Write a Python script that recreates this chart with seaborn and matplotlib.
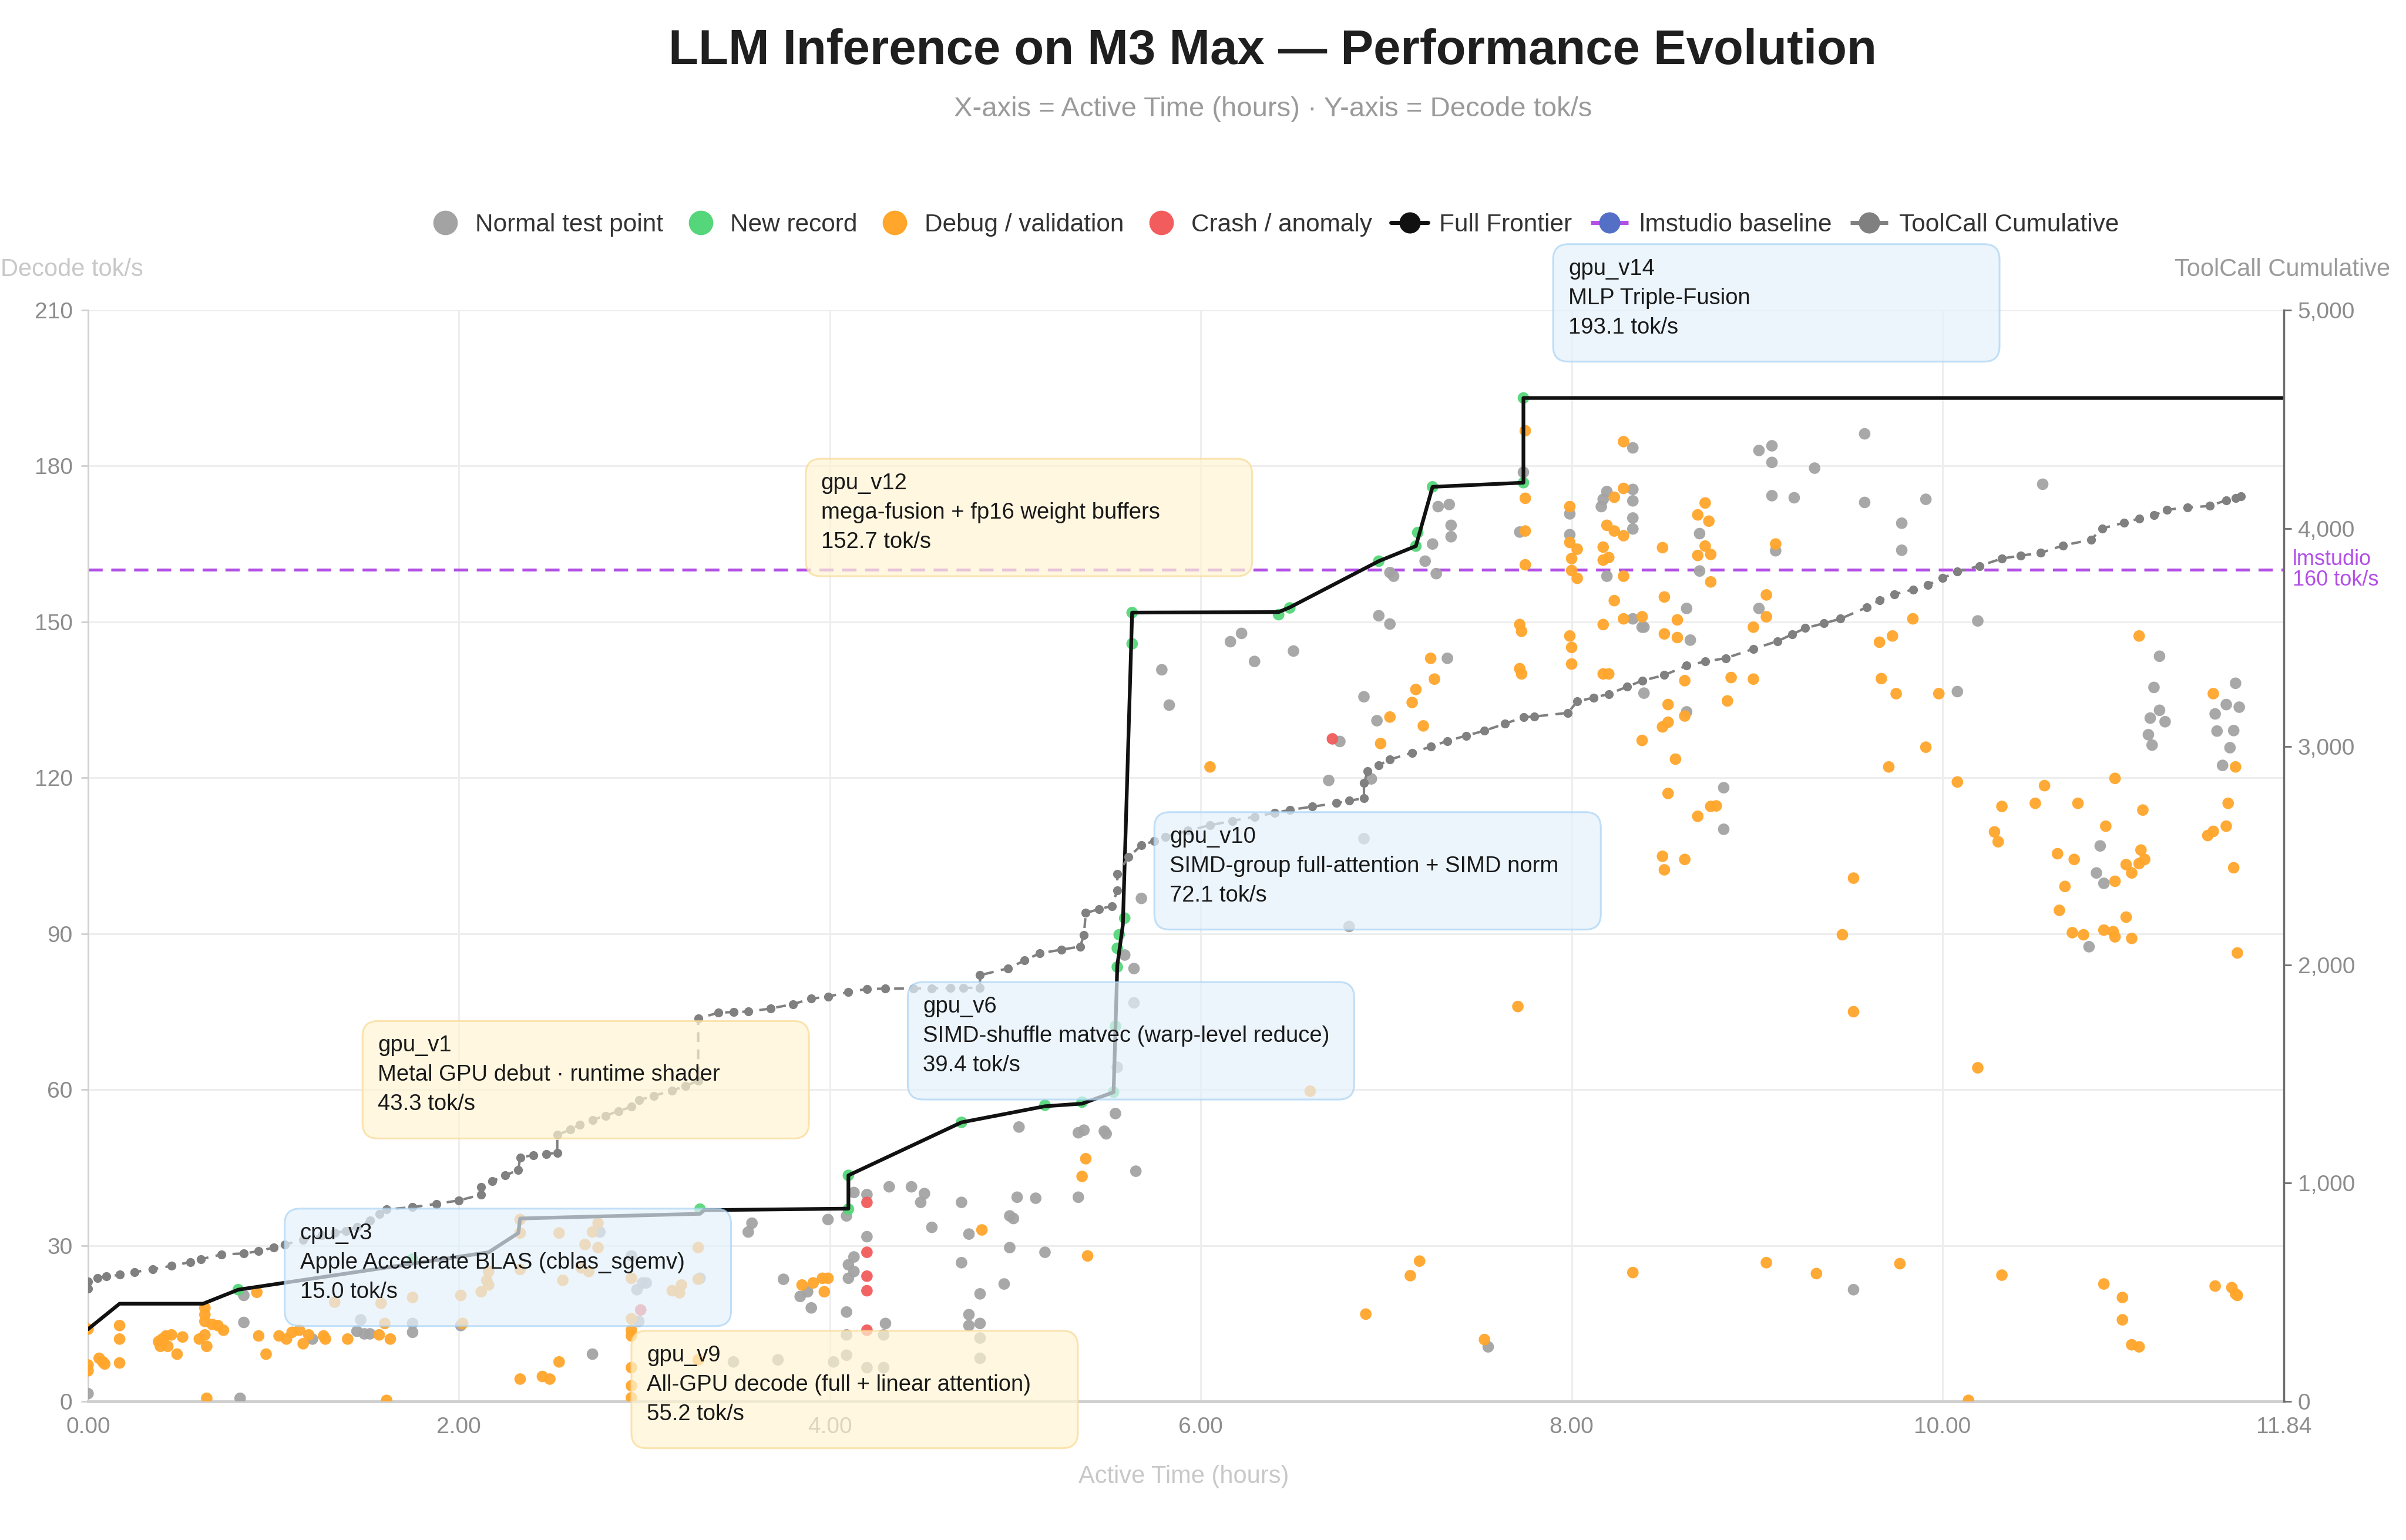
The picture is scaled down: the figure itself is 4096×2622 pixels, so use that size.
import numpy as np
import pandas as pd
import matplotlib
matplotlib.use("Agg")
import matplotlib.pyplot as plt
import matplotlib.transforms as mtransforms
from matplotlib.patches import FancyBboxPatch
from matplotlib.lines import Line2D
import seaborn as sns

# --- data (hours, decode tok/s) ---
normal_pts = [
    (0.00, 1.5), (0.82, 0.6), (0.84, 15.2), (0.84, 20.4), (1.21, 12.0), (1.47, 15.7), (1.45, 13.5),
    (1.49, 13.0), (1.52, 13.0), (1.75, 15.0), (1.75, 13.3), (2.01, 14.6), (2.72, 9.1), (2.76, 32.6),
    (2.93, 28.0), (2.96, 21.5), (2.99, 22.8), (2.97, 15.4), (3.01, 22.8), (3.30, 23.7), (3.48, 7.6),
    (3.72, 8.0), (3.56, 32.6), (3.58, 34.3), (3.75, 23.5), (3.84, 20.2), (3.88, 21.1), (3.90, 18.0),
    (3.99, 35.0), (4.09, 35.7), (4.13, 40.2), (4.20, 39.8), (4.20, 31.7), (4.13, 27.8), (4.10, 26.3),
    (4.13, 25.0), (4.10, 23.7), (4.09, 17.2), (4.09, 12.8), (4.09, 8.9), (4.02, 7.6), (4.20, 6.5),
    (4.29, 6.5), (4.29, 12.8), (4.30, 15.0), (4.32, 41.3), (4.44, 41.3), (4.51, 40.0), (4.49, 38.3),
    (4.55, 33.5), (4.71, 38.3), (4.75, 32.2), (4.71, 26.7), (4.81, 20.7), (4.75, 16.7), (4.75, 14.6),
    (4.81, 15.0), (4.81, 12.2), (4.81, 8.3), (4.94, 22.6), (4.97, 35.7), (4.99, 35.2), (4.97, 29.6),
    (5.01, 39.3), (5.11, 39.1), (5.16, 28.7), (5.02, 52.8), (5.34, 51.7), (5.37, 52.2), (5.34, 39.3),
    (5.48, 52.0), (5.49, 51.5), (5.54, 55.4), (5.65, 44.3), (5.55, 64.3), (5.64, 76.7), (5.59, 85.9),
    (5.64, 83.3), (5.68, 96.8), (5.79, 140.8), (5.83, 134.0), (6.16, 146.2), (6.22, 147.8), (6.29, 142.4),
    (6.50, 144.4), (6.80, 91.4), (6.88, 108.3), (6.69, 119.5), (6.92, 119.8), (6.75, 127.0), (6.95, 131.0),
    (6.88, 135.6), (6.96, 151.2), (7.02, 149.6), (7.33, 143.0), (7.28, 172.2), (7.34, 172.6), (7.35, 168.6),
    (7.35, 166.4), (7.25, 165.0), (7.21, 161.7), (7.04, 158.8), (7.02, 159.5), (7.27, 159.3), (7.74, 178.8),
    (7.72, 167.3), (7.99, 170.8), (7.99, 166.8), (8.16, 172.2), (8.19, 175.1), (8.17, 173.6), (8.33, 175.5),
    (8.33, 173.3), (8.33, 170.0), (8.33, 167.9), (8.33, 183.5), (8.19, 158.8), (8.38, 149.0), (9.01, 183.0),
    (9.08, 183.9), (9.08, 180.7), (9.31, 179.6), (9.58, 186.2), (10.54, 176.5), (9.08, 174.3), (9.20, 173.9),
    (9.58, 173.0), (9.91, 173.6), (9.78, 169.0), (9.78, 163.8), (9.10, 163.7), (8.69, 167.0), (8.69, 159.8),
    (8.62, 152.6), (9.01, 152.6), (8.33, 150.6), (8.39, 149.0), (8.64, 146.5), (10.19, 150.2), (8.39, 136.3),
    (8.62, 132.7), (10.08, 136.6), (11.17, 143.4), (11.14, 137.4), (11.17, 133.0), (11.20, 130.8),
    (11.12, 131.5), (11.11, 128.3), (11.13, 126.3), (11.58, 138.2), (11.53, 134.1), (11.47, 132.3),
    (11.57, 129.1), (11.48, 129.0), (11.60, 133.6), (11.55, 125.8), (11.51, 122.4), (8.82, 118.1),
    (8.82, 110.1), (10.85, 106.9), (10.83, 101.7), (10.87, 99.7), (10.79, 87.5), (9.52, 21.5), (7.55, 10.5),
]

debug_pts = [
    (0.00, 13.9), (0.17, 14.6), (0.17, 12.0), (0.17, 7.4), (0.00, 7.0), (0.00, 5.9), (0.06, 8.3), (0.08, 7.6),
    (0.09, 7.2), (0.38, 11.5), (0.40, 12.0), (0.42, 12.6), (0.43, 10.6), (0.45, 12.8), (0.39, 10.6),
    (0.48, 9.1), (0.51, 12.4), (0.63, 18.0), (0.63, 16.7), (0.63, 15.4), (0.63, 12.8), (0.60, 12.0),
    (0.64, 10.6), (0.67, 14.8), (0.70, 14.6), (0.73, 13.7), (0.64, 0.6), (0.91, 21.0), (0.92, 12.6),
    (0.96, 9.1), (1.03, 12.6), (1.07, 12.0), (1.10, 13.3), (1.14, 13.7), (1.16, 11.1), (1.19, 12.8),
    (1.27, 12.6), (1.28, 12.0), (1.33, 19.1), (1.40, 12.0), (1.58, 18.9), (1.57, 12.8), (1.60, 15.0),
    (1.63, 12.0), (1.61, 0.2), (1.75, 20.0), (2.01, 20.4), (2.02, 15.0), (2.12, 21.1), (2.15, 23.3),
    (2.16, 25.0), (2.16, 22.4), (2.33, 35.0), (2.33, 32.4), (2.33, 25.4), (2.54, 32.4), (2.54, 7.6),
    (2.33, 4.3), (2.45, 4.8), (2.49, 4.3), (2.68, 30.2), (2.72, 32.6), (2.75, 34.3), (2.75, 29.6),
    (2.70, 25.0), (2.56, 23.3), (2.66, 25.7), (2.93, 23.7), (2.93, 13.7), (2.93, 12.6), (2.93, 6.5),
    (2.93, 3.0), (2.93, 0.7), (2.93, 15.9), (3.29, 29.6), (3.29, 23.5), (3.15, 21.3), (3.20, 22.4),
    (3.19, 20.9), (3.29, 8.0), (3.85, 22.4), (3.91, 22.8), (3.96, 23.7), (3.99, 23.7), (3.97, 21.1),
    (4.82, 33.0), (5.38, 46.7), (5.36, 43.3), (5.39, 28.0), (6.05, 122.1), (6.59, 59.7), (6.89, 16.8),
    (7.13, 24.2), (7.18, 27.0), (7.53, 11.9), (7.71, 76.0), (7.72, 149.5), (7.73, 148.2), (7.24, 143.0),
    (7.26, 139.0), (7.16, 137.0), (7.14, 134.5), (7.02, 131.7), (7.20, 130.0), (6.97, 126.6), (7.72, 141.0),
    (7.73, 140.0), (7.75, 186.8), (7.75, 173.8), (7.75, 167.5), (7.75, 161.0), (7.99, 172.2), (7.99, 165.3),
    (8.03, 164.0), (8.00, 162.2), (8.00, 159.9), (8.03, 158.4), (7.99, 147.3), (8.00, 145.1), (8.00, 141.9),
    (8.28, 184.7), (8.28, 175.7), (8.23, 174.0), (8.19, 168.6), (8.23, 167.5), (8.28, 166.6), (8.17, 164.4),
    (8.20, 162.4), (8.17, 161.9), (8.28, 158.8), (8.23, 154.1), (8.28, 150.6), (8.17, 149.5), (8.38, 151.0),
    (8.17, 140.0), (8.20, 140.0), (8.38, 127.2), (8.49, 164.3), (8.72, 172.9), (8.68, 170.6), (8.74, 169.4),
    (8.68, 162.8), (8.75, 163.0), (8.72, 164.6), (8.75, 157.7), (9.10, 165.0), (9.05, 155.2), (9.05, 151.0),
    (8.98, 149.0), (8.50, 154.8), (8.57, 150.4), (8.50, 147.7), (8.57, 147.0), (8.61, 138.7), (8.86, 139.3),
    (8.98, 139.0), (8.84, 134.8), (8.52, 134.1), (8.61, 131.9), (8.49, 129.8), (8.52, 130.7), (8.56, 123.6),
    (8.52, 117.0), (8.68, 112.6), (8.75, 114.5), (8.78, 114.6), (8.49, 104.9), (8.50, 102.3), (8.61, 104.3),
    (9.52, 100.7), (9.46, 89.8), (9.52, 75.0), (9.84, 150.6), (9.73, 147.3), (9.66, 146.1), (9.67, 139.1),
    (9.75, 136.2), (9.98, 136.2), (9.91, 125.9), (9.71, 122.1), (10.08, 119.2), (10.55, 118.5),
    (10.93, 119.9), (11.06, 147.3), (11.46, 136.2), (11.58, 122.1), (10.19, 64.2), (10.32, 114.5),
    (10.28, 109.6), (10.30, 107.7), (10.50, 115.1), (10.73, 115.1), (11.08, 113.8), (10.88, 110.7),
    (10.62, 105.4), (10.71, 104.3), (10.66, 99.1), (10.63, 94.5), (10.70, 90.2), (10.76, 89.8),
    (10.87, 90.7), (10.92, 90.4), (10.93, 89.4), (10.99, 93.2), (11.02, 89.1), (10.93, 100.1),
    (11.02, 101.7), (10.99, 103.3), (11.06, 103.5), (11.09, 104.3), (11.07, 106.1), (11.54, 115.1),
    (11.53, 110.7), (11.43, 108.9), (11.46, 109.7), (11.57, 102.7), (11.59, 86.3), (8.33, 24.8),
    (9.05, 26.7), (9.32, 24.6), (9.77, 26.5), (10.14, 0.2), (10.32, 24.3), (10.87, 22.6), (10.97, 20.0),
    (10.97, 15.7), (11.02, 10.9), (11.06, 10.5), (11.47, 22.2), (11.56, 21.9), (11.58, 20.7), (11.59, 20.4),
]

crash_pts = [(2.98, 17.6), (4.20, 38.3), (4.20, 28.7), (4.20, 24.1), (4.20, 21.3), (4.20, 13.7), (6.71, 127.5)]

record_pts = [
    (0.81, 21.5), (1.75, 27.4), (3.30, 37.0), (4.10, 37.0), (4.10, 43.5), (4.71, 53.7), (5.16, 57.0),
    (5.36, 57.6), (5.53, 59.5), (5.54, 72.2), (5.55, 83.6), (5.55, 87.2), (5.56, 89.8), (5.59, 93.0),
    (5.63, 145.8), (5.63, 151.8), (6.42, 151.4), (6.48, 152.7), (6.96, 161.7), (7.16, 164.6),
    (7.17, 167.2), (7.25, 176.0), (7.74, 176.8), (7.74, 193.1),
]

frontier = [
    (0.00, 13.9), (0.17, 18.8), (0.62, 18.8), (0.81, 21.5), (2.16, 28.7), (2.32, 32.4), (2.33, 35.2),
    (3.30, 36.1), (3.32, 36.8), (4.10, 37.1), (4.10, 43.5), (4.71, 53.7), (5.16, 56.8), (5.36, 57.3),
    (5.53, 59.5), (5.55, 83.9), (5.58, 91.7), (5.63, 151.8), (6.42, 151.9), (6.48, 152.8), (6.96, 161.7),
    (7.16, 164.6), (7.25, 176.0), (7.74, 176.8), (7.74, 193.1), (11.84, 193.1),
]

# cumulative tool calls (right axis)
toolcalls = [
    (0.00, 517), (0.00, 548), (0.05, 564), (0.10, 572), (0.17, 580), (0.25, 592), (0.35, 606), (0.45, 621),
    (0.55, 638), (0.61, 652), (0.72, 673), (0.84, 678), (0.92, 688), (1.00, 705), (1.06, 719), (1.16, 740),
    (1.26, 761), (1.33, 772), (1.39, 781), (1.45, 800), (1.52, 830), (1.57, 859), (1.61, 880), (1.75, 890),
    (1.88, 905), (2.00, 921), (2.12, 947), (2.12, 983), (2.18, 1009), (2.25, 1035), (2.32, 1061),
    (2.33, 1118), (2.40, 1128), (2.47, 1134), (2.53, 1139), (2.53, 1221), (2.60, 1245), (2.65, 1268),
    (2.72, 1290), (2.79, 1309), (2.86, 1330), (2.93, 1350), (2.97, 1381), (3.05, 1400), (3.15, 1425),
    (3.22, 1445), (3.29, 1469), (3.29, 1755), (3.40, 1781), (3.48, 1784), (3.56, 1786), (3.68, 1800),
    (3.80, 1820), (3.90, 1845), (3.99, 1855), (4.10, 1875), (4.20, 1890), (4.30, 1891), (4.45, 1892),
    (4.55, 1893), (4.65, 1894), (4.72, 1895), (4.81, 1895), (4.81, 1953), (4.96, 1984), (5.05, 2020),
    (5.13, 2053), (5.25, 2070), (5.35, 2084), (5.37, 2138), (5.38, 2238), (5.45, 2255), (5.52, 2270),
    (5.55, 2340), (5.55, 2416), (5.61, 2494), (5.68, 2548), (5.75, 2568), (5.81, 2586), (5.93, 2615),
    (6.05, 2640), (6.17, 2660), (6.29, 2679), (6.40, 2697), (6.48, 2710), (6.60, 2725), (6.73, 2741),
    (6.80, 2752), (6.88, 2764), (6.88, 2833), (6.90, 2887), (6.96, 2915), (7.02, 2941), (7.14, 2972),
    (7.24, 3000), (7.33, 3026), (7.43, 3050), (7.53, 3073), (7.64, 3105), (7.74, 3135), (7.80, 3138),
    (7.98, 3155), (8.03, 3207), (8.12, 3225), (8.20, 3241), (8.30, 3275), (8.38, 3302), (8.50, 3328),
    (8.62, 3371), (8.72, 3390), (8.83, 3405), (8.98, 3448), (9.11, 3483), (9.19, 3515), (9.26, 3543),
    (9.36, 3565), (9.45, 3586), (9.59, 3638), (9.66, 3670), (9.74, 3698), (9.84, 3720), (9.92, 3741),
    (10.00, 3772), (10.08, 3802), (10.20, 3828), (10.32, 3862), (10.42, 3875), (10.53, 3888),
    (10.65, 3922), (10.80, 3948), (10.86, 4000), (10.98, 4026), (11.06, 4045), (11.14, 4060),
    (11.21, 4086), (11.32, 4095), (11.44, 4103), (11.53, 4129), (11.58, 4140), (11.61, 4147),
]

lmstudio_tok = 160
x_max = 11.84
x_ticks = [0, 2, 4, 6, 8, 10, 11.84]
y_ticks = [0, 30, 60, 90, 120, 150, 180, 210]
y2_ticks = [0, 1000, 2000, 3000, 4000, 5000]

notes = [
    ("cpu_v3", "Apple Accelerate BLAS (cblas_sgemv)", "15.0 tok/s", "blue"),
    ("gpu_v1", "Metal GPU debut · runtime shader", "43.3 tok/s", "yellow"),
    ("gpu_v9", "All-GPU decode (full + linear attention)", "55.2 tok/s", "yellow"),
    ("gpu_v6", "SIMD-shuffle matvec (warp-level reduce)", "39.4 tok/s", "blue"),
    ("gpu_v10", "SIMD-group full-attention + SIMD norm", "72.1 tok/s", "blue"),
    ("gpu_v12", "mega-fusion + fp16 weight buffers", "152.7 tok/s", "yellow"),
    ("gpu_v14", "MLP Triple-Fusion", "193.1 tok/s", "blue"),
]
# top-left corner of each note box (hours, tok/s) - layout only
note_anchor = [(1.06, 37.1), (1.48, 73.2), (2.93, 13.6), (4.42, 80.7), (5.75, 113.4), (3.87, 181.4), (7.90, 222.7)]

# --- styling ---
C_NORMAL = "#A3A3A3"
C_RECORD = "#55D67A"
C_DEBUG = "#FFA62B"
C_CRASH = "#F25C5C"
C_PURPLE = "#B24FE6"
TXT_GRAY = "#8C8C8C"
LIGHT = "#C8C8C8"

sns.set_theme(style="white")
plt.rcParams["font.family"] = ["Liberation Sans", "DejaVu Sans"]

fig = plt.figure(figsize=(40.96, 26.22), dpi=100)
ax = fig.add_axes([0.0366, 0.090, 0.9126, 0.7086])
ax2 = ax.twinx()

pts = pd.concat([
    pd.DataFrame(normal_pts, columns=["hours", "tok"]).assign(kind="Normal test point"),
    pd.DataFrame(debug_pts, columns=["hours", "tok"]).assign(kind="Debug / validation"),
    pd.DataFrame(crash_pts, columns=["hours", "tok"]).assign(kind="Crash / anomaly"),
    pd.DataFrame(record_pts, columns=["hours", "tok"]).assign(kind="New record"),
], ignore_index=True)
palette = {"Normal test point": C_NORMAL, "Debug / validation": C_DEBUG,
           "Crash / anomaly": C_CRASH, "New record": C_RECORD}

sns.scatterplot(data=pts, x="hours", y="tok", hue="kind", palette=palette, s=200,
                linewidth=0, alpha=0.95, legend=False, ax=ax, zorder=3)

fr = pd.DataFrame(frontier, columns=["hours", "tok"])
sns.lineplot(data=fr, x="hours", y="tok", sort=False, estimator=None, color="#111111", lw=4.5,
             ax=ax, zorder=4)

ax.axhline(lmstudio_tok, color=C_PURPLE, lw=3.5, dashes=(5, 3), zorder=2)

tc = pd.DataFrame(toolcalls, columns=["hours", "calls"])
sns.lineplot(data=tc, x="hours", y="calls", sort=False, estimator=None, color="#808080", lw=3,
             linestyle=(0, (4, 3)), marker="o", markersize=11, markeredgewidth=0, ax=ax2, zorder=2)

# axes
ax.set_xlim(0, x_max)
ax.set_ylim(0, 210)
ax2.set_ylim(0, 5000)
ax.set_xticks(x_ticks)
ax.set_xticklabels([f"{v:.2f}" for v in x_ticks])
ax.set_yticks(y_ticks)
ax2.set_yticks(y2_ticks)
ax2.set_yticklabels([f"{v:,}" for v in y2_ticks])
ax.set_xlabel("")
ax.set_ylabel("")
ax2.set_ylabel("")

ax.grid(True, color="#EDEDED", lw=2)
ax.set_axisbelow(True)
for side in ["top", "right"]:
    ax.spines[side].set_visible(False)
ax.spines["left"].set_color("#D0D0D0")
ax.spines["left"].set_linewidth(2)
ax.spines["bottom"].set_color("#CFCFCF")
ax.spines["bottom"].set_linewidth(3.5)
for side in ["top", "left", "bottom"]:
    ax2.spines[side].set_visible(False)
ax2.spines["right"].set_color("#6E6E6E")
ax2.spines["right"].set_linewidth(2.5)

ax.tick_params(axis="both", labelsize=28, colors=TXT_GRAY, length=9, width=2, pad=10)
ax.tick_params(axis="x", color="#CFCFCF")
ax.tick_params(axis="y", color="#CFCFCF")
ax2.tick_params(axis="y", labelsize=28, colors=TXT_GRAY, length=9, width=2, pad=8)
ax2.tick_params(axis="y", color="#6E6E6E")

# lmstudio label on the right
lm_tr = mtransforms.blended_transform_factory(ax.transAxes, ax.transData)
ax.text(1.004, lmstudio_tok, "lmstudio\n160 tok/s", transform=lm_tr, color=C_PURPLE,
        fontsize=26, va="center", ha="left", linespacing=1.0)

# titles and axis names
fig.text(0.529, 0.967, "LLM Inference on M3 Max — Performance Evolution", ha="center", va="center",
         fontsize=60, fontweight="bold", color="#1F1F1F")
fig.text(0.529, 0.929, "X-axis = Active Time (hours) · Y-axis = Decode tok/s", ha="center", va="center",
         fontsize=34, color="#9A9A9A")
fig.text(0.0595, 0.825, "Decode tok/s", ha="right", va="center", fontsize=30, color=LIGHT)
fig.text(0.9934, 0.825, "ToolCall Cumulative", ha="right", va="center", fontsize=30, color="#9A9A9A")
fig.text(0.492, 0.041, "Active Time (hours)", ha="center", va="center", fontsize=30, color=LIGHT)

# legend
handles = [
    Line2D([], [], ls="none", marker="o", markersize=29, color=C_NORMAL),
    Line2D([], [], ls="none", marker="o", markersize=29, color=C_RECORD),
    Line2D([], [], ls="none", marker="o", markersize=29, color=C_DEBUG),
    Line2D([], [], ls="none", marker="o", markersize=29, color=C_CRASH),
    Line2D([], [], color="#111111", lw=5, marker="o", markersize=25),
    Line2D([], [], color=C_PURPLE, lw=5, ls=(0, (4, 1.5)), marker="o", markersize=25,
           markerfacecolor="#5470C6", markeredgecolor="#5470C6"),
    Line2D([], [], color="#808080", lw=5, ls=(0, (4, 1.5)), marker="o", markersize=25),
]
labels = ["Normal test point", "New record", "Debug / validation", "Crash / anomaly",
          "Full Frontier", "lmstudio baseline", "ToolCall Cumulative"]
leg = fig.legend(handles, labels, loc="center", bbox_to_anchor=(0.529, 0.854), ncol=7, frameon=False,
                 fontsize=30.5, handlelength=1.5, handletextpad=0.45, columnspacing=0.75)
for t in leg.get_texts():
    t.set_color("#333333")

# note boxes, drawn in pixel space on top of everything
box_w, box_h, rad = 760, 200, 26
box_style = {
    "blue": ("#E4F1FC", "#A9D3F5"),
    "yellow": ("#FFF5D4", "#F9D992"),
}
ident = mtransforms.IdentityTransform()
for (name, desc, val, col), (hx, ty) in zip(notes, note_anchor):
    px, py = ax.transData.transform((hx, ty))
    face, edge = box_style[col]
    patch = FancyBboxPatch((px, py - box_h), box_w, box_h,
                           boxstyle=f"round,pad=0,rounding_size={rad}",
                           transform=ident, facecolor=face, edgecolor=edge, lw=2.2, alpha=0.7,
                           zorder=5)
    fig.patches.append(patch)
    for k, line in enumerate([name, desc, val]):
        fig.text(px + 26, py - 42 - 50 * k, line, transform=ident, fontsize=27.5, color="#1A1A1A",
                 va="center", ha="left", zorder=6)

fig.savefig("out.png", dpi=100, facecolor="white")
